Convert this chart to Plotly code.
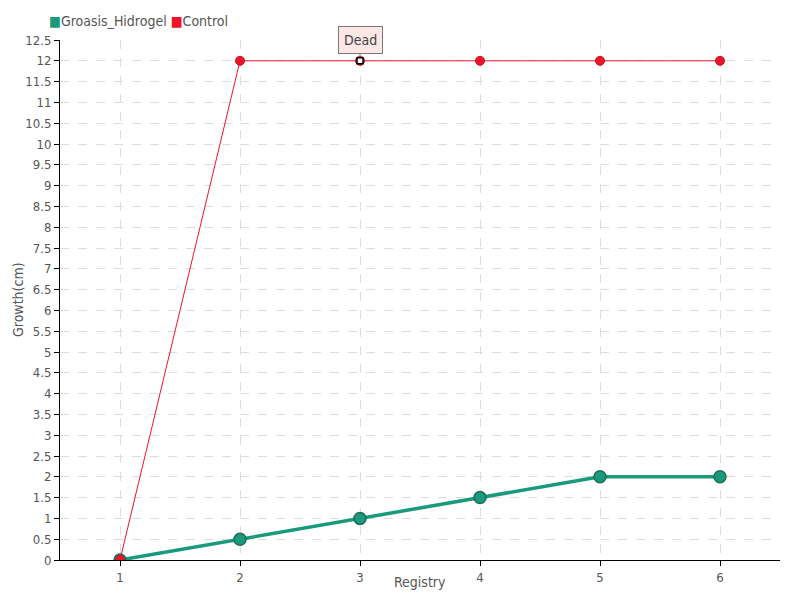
import plotly.graph_objects as go

registry = [1, 2, 3, 4, 5, 6]
hidrogel = [0, 0.5, 1, 1.5, 2, 2]
control = [0, 12, 12, 12, 12, 12]
series_names = ["Groasis_Hidrogel", "Control"]
dead_idx = 2
dead_label = "Dead"

FONT = "Liberation Sans Narrow, DejaVu Sans Condensed, sans-serif"
GREEN = "#1a9a7c"
RED = "#f0142a"

fig = go.Figure()

fig.add_trace(go.Scatter(
    x=registry, y=hidrogel,
    name=series_names[0],
    mode="lines+markers",
    showlegend=False,
    line=dict(color=GREEN, width=3.5),
    marker=dict(size=12, color=GREEN, line=dict(color="#1f6b57", width=1.5)),
))

fig.add_trace(go.Scatter(
    x=registry, y=control,
    name=series_names[1],
    mode="lines+markers",
    showlegend=False,
    line=dict(color=RED, width=1),
    marker=dict(size=9, color=RED, line=dict(color="#c8101f", width=1)),
))

# "Dead" marker on the control series
fig.add_trace(go.Scatter(
    x=[registry[dead_idx]], y=[control[dead_idx]],
    mode="markers",
    showlegend=False,
    marker=dict(size=6, symbol="square", color="white", line=dict(color="black", width=1.5)),
))

fig.add_annotation(
    x=registry[dead_idx], y=control[dead_idx],
    text=dead_label,
    showarrow=True, arrowhead=0, arrowwidth=1, arrowcolor="#777",
    ax=0, ay=-21, standoff=4,
    bgcolor="#fde6e6", bordercolor="#777", borderwidth=1, borderpad=5,
    font=dict(family=FONT, size=14, color="#444"),
)

# compact legend on top-left: coloured square + name
legend_text = (
    f"<span style='color:{GREEN}'>■</span>{series_names[0]} "
    f"<span style='color:{RED}'>■</span>{series_names[1]}"
)
fig.add_annotation(
    xref="paper", yref="paper", x=-0.018, y=1.036,
    xanchor="left", yanchor="middle", showarrow=False,
    text=legend_text,
    font=dict(family=FONT, size=14, color="#555"),
)

# axis titles sit tight against the tick labels
fig.add_annotation(
    xref="paper", yref="paper", x=0.5, y=0,
    xanchor="center", yanchor="top", yshift=-12, showarrow=False,
    text="Registry",
    font=dict(family=FONT, size=14, color="#555"),
)
fig.add_annotation(
    xref="paper", yref="paper", x=0, y=0.5,
    xanchor="center", yanchor="middle", xshift=-42, showarrow=False,
    textangle=-90,
    text="Growth(cm)",
    font=dict(family=FONT, size=14, color="#555"),
)

# page body adds an 8px offset, so margins are shifted to keep the plot area in place
fig.update_layout(
    width=800, height=600,
    margin=dict(l=52, r=28, t=32, b=48, autoexpand=False),
    paper_bgcolor="white", plot_bgcolor="white",
    font=dict(family=FONT, size=13, color="#555"),
    showlegend=False,
    xaxis=dict(
        range=[0.5, 6.5], tickmode="array", tickvals=registry,
        showline=True, linecolor="black", linewidth=1,
        ticks="outside", ticklen=5, tickcolor="black",
        showgrid=True, gridcolor="#dddddd", griddash="dash",
        zeroline=False,
    ),
    yaxis=dict(
        range=[0, 12.5], dtick=0.5,
        showline=True, linecolor="black", linewidth=1,
        ticks="outside", ticklen=5, tickcolor="black",
        showgrid=True, gridcolor="#dddddd", griddash="dash",
        zeroline=False,
    ),
)

fig.write_html("out.html")
